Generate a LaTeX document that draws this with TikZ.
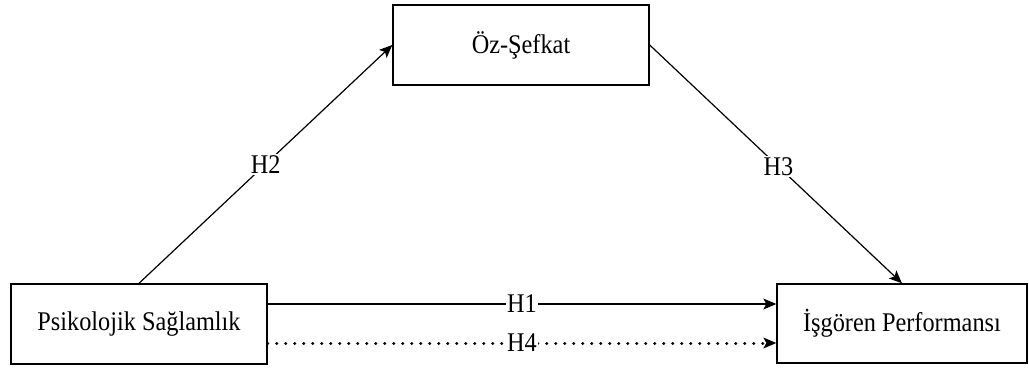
\documentclass[tikz,border=0pt]{standalone}
\usepackage{fontspec}
\setmainfont{Liberation Serif}[FakeStretch=0.9]
\usetikzlibrary{arrows.meta}
\begin{document}
\begin{tikzpicture}[x=1pt,y=-1pt,
  varbox/.style={draw,line width=1.4pt,minimum width=#1,minimum height=80pt,inner sep=0pt,font=\fontsize{27}{30}\selectfont},
  link/.style={line width=1.2pt,-{Stealth[length=13pt,width=11pt,inset=3pt]}},
  hyp/.style={fill=white,inner sep=1.5pt,font=\fontsize{27}{30}\selectfont}]
\useasboundingbox (0,0) rectangle (1029,370);
\node[varbox=256pt] (ps) at (139,324) {Psikolojik Sağlamlık};
\node[varbox=256pt] (oz) at (521,45) {Öz-Şefkat};
\node[varbox=250pt,minimum height=79pt] (ip) at (902,323.5) {İşgören Performansı};
\draw[link] (ps.north) -- node[hyp] {H2} (oz.west);
\draw[link] (oz.east) -- node[hyp,pos=0.51] {H3} (ip.north);
\draw[link] ([yshift=20pt]ps.east) -- node[hyp,pos=0.5] {H1} ([yshift=19.5pt]ip.west);
\draw[link,line width=3pt,dash pattern=on 0.1pt off 8.9pt,line cap=round,-{Stealth[length=13pt,width=11pt,inset=3pt,line width=0pt]}] ([yshift=-19pt]ps.east) -- node[hyp,pos=0.5] {H4} ([yshift=-19.5pt]ip.west);
\end{tikzpicture}
\end{document}
